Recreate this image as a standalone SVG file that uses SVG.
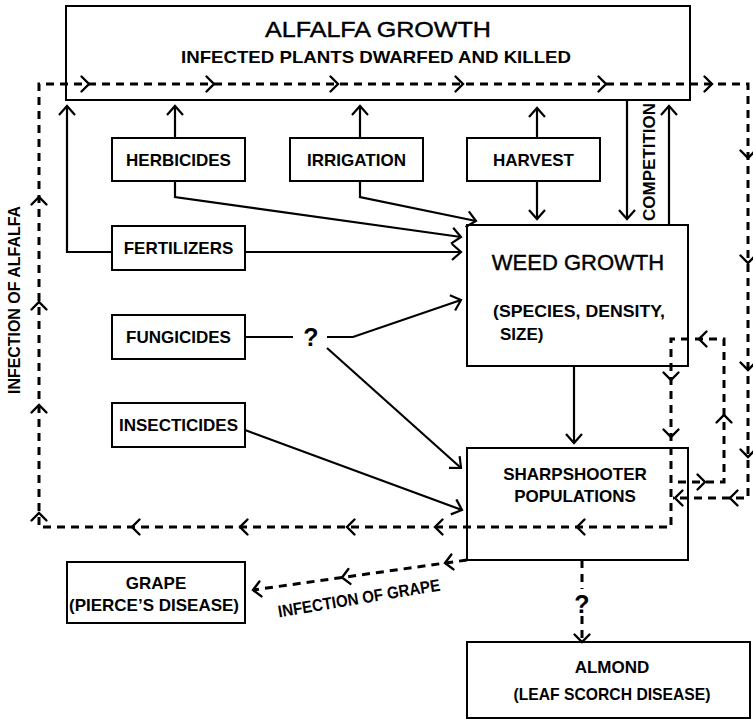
<svg xmlns="http://www.w3.org/2000/svg" width="753" height="721" viewBox="0 0 753 721">
<defs>
<style>
.box{fill:#fff;stroke:#000;stroke-width:2}
.ln{fill:none;stroke:#000;stroke-width:2.2}
.dl{fill:none;stroke:#000;stroke-width:3;stroke-dasharray:8 6}
.ch{fill:none;stroke:#000;stroke-width:2.4;stroke-linecap:round;stroke-linejoin:miter}
.lb{font-family:"Liberation Sans",Arial,sans-serif;font-weight:bold;font-size:17px;fill:#000;text-anchor:middle}
.tt{font-family:"Liberation Sans",Arial,sans-serif;font-size:22px;fill:#000;stroke:#000;stroke-width:0.4;text-anchor:middle}
.q{font-family:"Liberation Sans",Arial,sans-serif;font-weight:bold;font-size:25px;fill:#000;text-anchor:middle}
</style>
<path id="cv" class="ch" d="M-7.5,-7.5 L0,0 L-7.5,7.5"/>
<marker id="ah" viewBox="-12 -12 24 24" refX="0" refY="0" markerWidth="24" markerHeight="24" markerUnits="userSpaceOnUse" orient="auto">
<path d="M-9,-8 L0,0 L-9,8" fill="none" stroke="#000" stroke-width="2.2"/>
</marker>
</defs>
<rect width="753" height="721" fill="#fff"/>

<g id="alfalfa">
<rect class="box" x="66" y="6" width="624" height="94"/>
<text class="tt" x="378" y="37" textLength="226" lengthAdjust="spacingAndGlyphs">ALFALFA GROWTH</text>
<text class="lb" x="376" y="63" font-size="15.5" textLength="390" lengthAdjust="spacingAndGlyphs">INFECTED PLANTS DWARFED AND KILLED</text>
</g>
<g id="herbicides"><rect class="box" x="112" y="138" width="133" height="43"/><text class="lb" x="178.5" y="166">HERBICIDES</text></g>
<g id="irrigation"><rect class="box" x="290" y="138" width="133" height="43"/><text class="lb" x="356.5" y="166">IRRIGATION</text></g>
<g id="harvest"><rect class="box" x="467" y="138" width="133" height="43"/><text class="lb" x="533.5" y="166">HARVEST</text></g>
<g id="fertilizers"><rect class="box" x="112" y="226" width="133" height="44"/><text class="lb" x="178.5" y="254">FERTILIZERS</text></g>
<g id="fungicides"><rect class="box" x="112" y="315" width="133" height="44"/><text class="lb" x="178.5" y="343">FUNGICIDES</text></g>
<g id="insecticides"><rect class="box" x="112" y="403" width="133" height="44"/><text class="lb" x="178.5" y="431">INSECTICIDES</text></g>
<g id="weed">
<rect class="box" x="467" y="225" width="221" height="141"/>
<text class="tt" x="578" y="270">WEED GROWTH</text>
<text class="lb" x="493" y="317" style="text-anchor:start" textLength="172" lengthAdjust="spacingAndGlyphs">(SPECIES, DENSITY,</text>
<text class="lb" x="500" y="340" style="text-anchor:start">SIZE)</text>
</g>
<g id="sharpshooter">
<rect class="box" x="467" y="448" width="221" height="112"/>
<text class="lb" x="575" y="480">SHARPSHOOTER</text>
<text class="lb" x="575" y="502">POPULATIONS</text>
</g>
<g id="grape">
<rect class="box" x="67" y="562" width="178" height="61"/>
<text class="lb" x="156" y="589">GRAPE</text>
<text class="lb" x="154" y="611" font-size="15.5">(PIERCE’S DISEASE)</text>
</g>
<g id="almond">
<rect class="box" x="467" y="642" width="283" height="76"/>
<text class="lb" x="612" y="673">ALMOND</text>
<text class="lb" x="612" y="700" font-size="16" textLength="197" lengthAdjust="spacingAndGlyphs">(LEAF SCORCH DISEASE)</text>
</g>

<g id="connectors">
<path class="ln" d="M175,138 V106" marker-end="url(#ah)"/>
<path class="ln" d="M360,138 V106" marker-end="url(#ah)"/>
<path class="ln" d="M537,138 V108" marker-end="url(#ah)"/>
<path class="ln" d="M537,181 V219" marker-end="url(#ah)"/>
<path class="ln" d="M112,252 H67 V106" marker-end="url(#ah)"/>
<path class="ln" d="M245,252 H461" marker-end="url(#ah)"/>
<path class="ln" d="M175,181 V197 L461,237" marker-end="url(#ah)"/>
<path class="ln" d="M360,181 V197 L476,221" marker-end="url(#ah)"/>
<path class="ln" d="M627,100 V219" marker-end="url(#ah)"/>
<path class="ln" d="M669,225 V106" marker-end="url(#ah)"/>
<path class="ln" d="M574,366 V443" marker-end="url(#ah)"/>
<path class="ln" d="M245,337 H293"/>
<path class="ln" d="M327,337 H353 L461,300" marker-end="url(#ah)"/>
<path class="ln" d="M327,348 L461,468" marker-end="url(#ah)"/>
<path class="ln" d="M245,430 L462,510" marker-end="url(#ah)"/>
<text class="q" x="311" y="346">?</text>
<text class="lb" x="0" y="0" font-size="16" transform="translate(655,162) rotate(-90)">COMPETITION</text>

<path class="dl" d="M678,482 H724 V339 H671 V527 H39 V84 H748 V498 H673"/>
<path class="dl" d="M467,560 L253,590"/>
<path class="dl" d="M582,560 V589 M582,616 V642"/>
<text class="q" x="582" y="613">?</text>
<text class="lb" x="0" y="0" font-size="15" transform="translate(20,300) rotate(-90)" textLength="188" lengthAdjust="spacingAndGlyphs">INFECTION OF ALFALFA</text>
<text class="lb" x="0" y="0" font-size="14" transform="translate(360,604) rotate(-9.5)" textLength="164" lengthAdjust="spacingAndGlyphs">INFECTION OF GRAPE</text>

<use href="#cv" transform="translate(89,84)"/>
<use href="#cv" transform="translate(214,84)"/>
<use href="#cv" transform="translate(338,84)"/>
<use href="#cv" transform="translate(463,84)"/>
<use href="#cv" transform="translate(606,84)"/>
<use href="#cv" transform="translate(712,84)"/>
<use href="#cv" transform="translate(748,158) rotate(90)"/>
<use href="#cv" transform="translate(748,263) rotate(90)"/>
<use href="#cv" transform="translate(748,370) rotate(90)"/>
<use href="#cv" transform="translate(748,457) rotate(90)"/>
<use href="#cv" transform="translate(730,498) rotate(180)"/>
<use href="#cv" transform="translate(675,498) rotate(180)"/>
<use href="#cv" transform="translate(577,527) rotate(180)"/>
<use href="#cv" transform="translate(435,527) rotate(180)"/>
<use href="#cv" transform="translate(347,527) rotate(180)"/>
<use href="#cv" transform="translate(240,527) rotate(180)"/>
<use href="#cv" transform="translate(132,527) rotate(180)"/>
<use href="#cv" transform="translate(39,513) rotate(-90)"/>
<use href="#cv" transform="translate(39,405) rotate(-90)"/>
<use href="#cv" transform="translate(39,302) rotate(-90)"/>
<use href="#cv" transform="translate(39,197) rotate(-90)"/>
<use href="#cv" transform="translate(705,482)"/>
<use href="#cv" transform="translate(724,415) rotate(-90)"/>
<use href="#cv" transform="translate(699,339) rotate(180)"/>
<use href="#cv" transform="translate(671,380) rotate(90)"/>
<use href="#cv" transform="translate(671,437) rotate(90)"/>
<use href="#cv" transform="translate(445,563) rotate(172)"/>
<use href="#cv" transform="translate(342,577.5) rotate(172)"/>
<use href="#cv" transform="translate(253,590) rotate(172)"/>
<use href="#cv" transform="translate(582,642) rotate(90)"/>
</g>
</svg>
